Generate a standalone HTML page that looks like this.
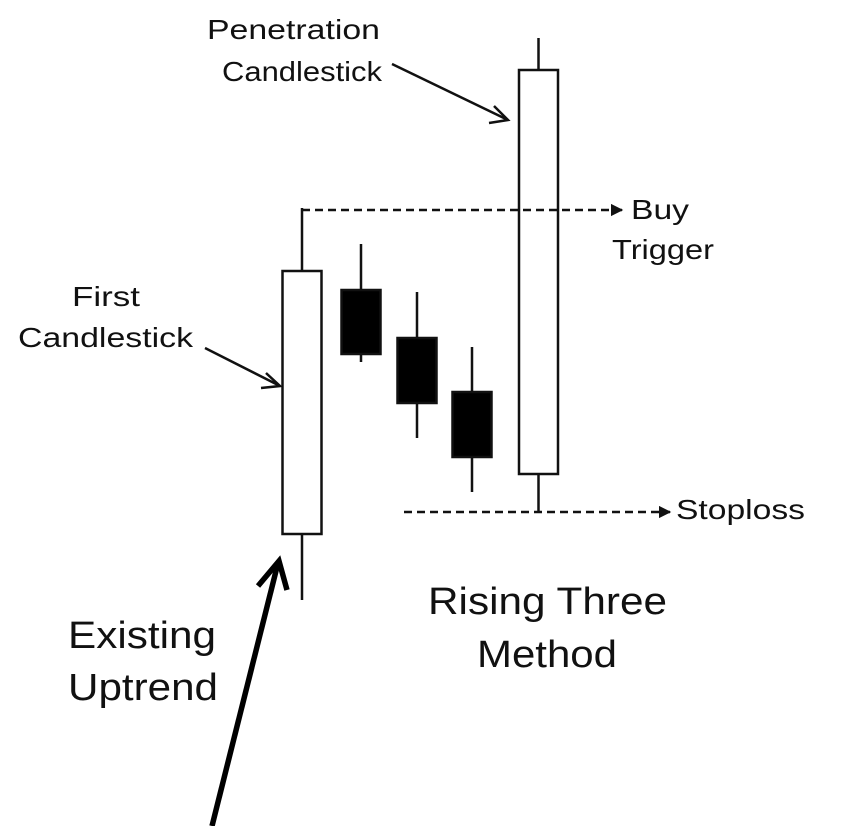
<!DOCTYPE html>
<html><head><meta charset="utf-8"><style>
html,body{margin:0;padding:0;background:#fff;}
svg{display:block;}
text{font-family:"Liberation Sans",Arial,sans-serif;fill:#111;}
</style></head><body>
<svg id="chart" width="852" height="826" viewBox="0 0 852 826" xmlns="http://www.w3.org/2000/svg">
<defs>
<marker id="tri" viewBox="0 0 10 10" refX="9" refY="5" markerWidth="5" markerHeight="5" orient="auto" markerUnits="strokeWidth"><path d="M0,0 L10,5 L0,10 z" fill="#111"/></marker>
</defs>
<g id="candles"></g>
<g><line id="buyLine" stroke="#111" stroke-width="2.5" stroke-dasharray="8,5" marker-end="url(#tri)"/></g>
<g><line id="stopLine" stroke="#111" stroke-width="2.5" stroke-dasharray="8,5" marker-end="url(#tri)"/></g>
<g>
<text x="207" y="39" font-size="28" textLength="173" lengthAdjust="spacingAndGlyphs">Penetration</text>
<text x="222" y="81" font-size="28" textLength="160" lengthAdjust="spacingAndGlyphs">Candlestick</text>
<polyline points="392,64 508,120" fill="none" stroke="#111" stroke-width="2.5"/>
<polyline points="494,106 508,120 489,123" fill="none" stroke="#111" stroke-width="2.5"/>
</g>
<g>
<text x="72" y="306" font-size="28" textLength="68" lengthAdjust="spacingAndGlyphs">First</text>
<text x="18" y="347" font-size="28" textLength="175" lengthAdjust="spacingAndGlyphs">Candlestick</text>
<polyline points="205,348 280,386" fill="none" stroke="#111" stroke-width="2.5"/>
<polyline points="266,373 280,386 261,388" fill="none" stroke="#111" stroke-width="2.5"/>
</g>
<g>
<text x="631" y="219" font-size="28" textLength="58" lengthAdjust="spacingAndGlyphs">Buy</text>
<text x="612" y="259" font-size="28" textLength="102" lengthAdjust="spacingAndGlyphs">Trigger</text>
</g>
<text x="676" y="519" font-size="28" textLength="129" lengthAdjust="spacingAndGlyphs">Stoploss</text>
<g>
<text x="428" y="614" font-size="38" textLength="239" lengthAdjust="spacingAndGlyphs">Rising Three</text>
<text x="547" y="667" font-size="38" text-anchor="middle" textLength="140" lengthAdjust="spacingAndGlyphs">Method</text>
</g>
<g>
<text x="68" y="648" font-size="38" textLength="148" lengthAdjust="spacingAndGlyphs">Existing</text>
<text x="68" y="700" font-size="38" textLength="150" lengthAdjust="spacingAndGlyphs">Uptrend</text>
</g>
<g>
<line x1="212" y1="826" x2="278" y2="563" stroke="#000" stroke-width="5.5"/>
<polyline points="258,586 279,561 287,590" fill="none" stroke="#000" stroke-width="5.5" stroke-linejoin="miter"/>
</g>
</svg>
<script>
const categories = ["first", "down1", "down2", "down3", "penetration"];
const openVals  = [26.5, 87.5, 75.5, 62, 41.5];
const closeVals = [92.25, 71.5, 59.25, 45.75, 142.5];
const highVals  = [108, 99, 87, 73.25, 150.5];
const lowVals   = [10, 69.5, 50.5, 37, 32];
const buyTrigger = 107.5;
const stoploss = 32;
const ns = "http://www.w3.org/2000/svg";
function yScale(p){ return 640 - p*4; }
function xScale(i){ return [302, 361, 417, 472, 538.5][i]; }
const bodyW = 39;
const g = document.getElementById('candles');
categories.forEach((c,i)=>{
  const cx = xScale(i);
  const top = yScale(Math.max(openVals[i],closeVals[i]));
  const bot = yScale(Math.min(openVals[i],closeVals[i]));
  const bull = closeVals[i] > openVals[i];
  const w = document.createElementNS(ns,'line');
  
  
  w.setAttribute('x1',cx); w.setAttribute('x2',cx);
  w.setAttribute('y1',yScale(highVals[i])); w.setAttribute('y2',yScale(lowVals[i]));
  w.setAttribute('stroke','#111'); w.setAttribute('stroke-width','2.5');
  g.appendChild(w);
  const r = document.createElementNS(ns,'rect');
  
  
  r.setAttribute('x',cx-bodyW/2); r.setAttribute('width',bodyW);
  r.setAttribute('y',top); r.setAttribute('height',bot-top);
  r.setAttribute('fill', bull ? '#fff' : '#000');
  r.setAttribute('stroke','#111'); r.setAttribute('stroke-width','2.5');
  g.appendChild(r);
});
const bl = document.getElementById('buyLine');
bl.setAttribute('x1', xScale(0)); bl.setAttribute('x2', 622);
bl.setAttribute('y1', yScale(buyTrigger)); bl.setAttribute('y2', yScale(buyTrigger));
const sl = document.getElementById('stopLine');
sl.setAttribute('x1', 404); sl.setAttribute('x2', 670);
sl.setAttribute('y1', yScale(stoploss)); sl.setAttribute('y2', yScale(stoploss));
</script>
</body></html>
